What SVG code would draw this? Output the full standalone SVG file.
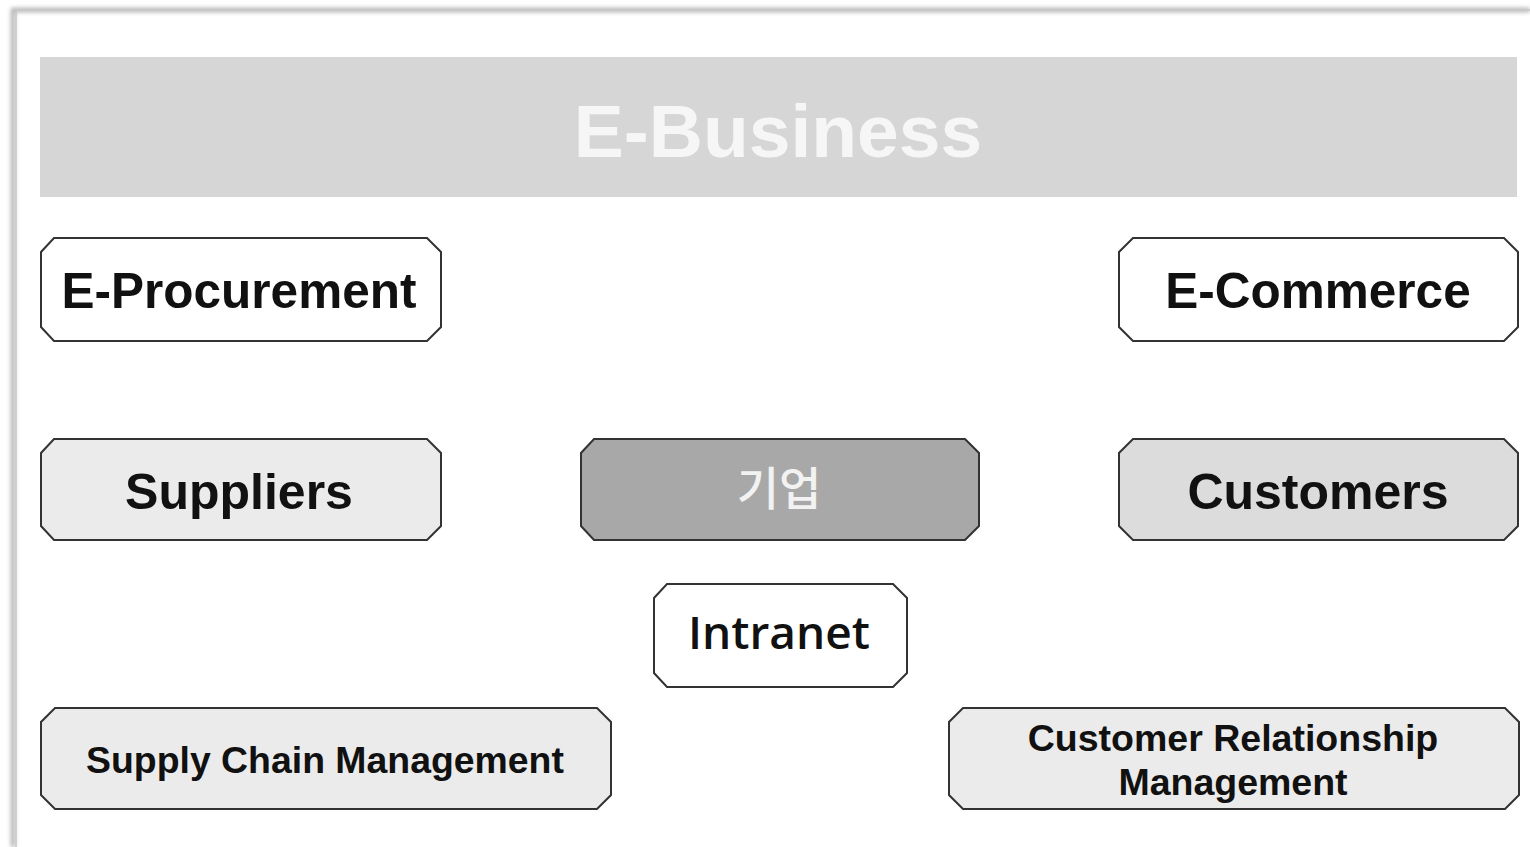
<svg xmlns="http://www.w3.org/2000/svg" width="1530" height="847" viewBox="0 0 1530 847">
<defs>
<style>
.box{stroke:#333;stroke-width:2}
.t{font-family:"Liberation Sans",Arial,sans-serif;font-weight:bold;text-anchor:middle;fill:#111}
</style>
<filter id="sh" x="-5%" y="-5%" width="110%" height="110%"><feGaussianBlur stdDeviation="2"/></filter>
</defs>
<rect width="1530" height="847" fill="#fff"/>
<g id="frame">
<path d="M13 847 V10 H1530" fill="none" stroke="#aaa" stroke-width="4" filter="url(#sh)"/>
<path d="M16 847 V10 H1530" fill="none" stroke="#c8c8c8" stroke-width="1.5"/>
</g>
<g id="ebusiness">
<rect x="40" y="57" width="1477" height="140" fill="#d6d6d6"/>
<text x="778" y="157" class="t" font-size="75" style="fill:#f6f6f6">E-Business</text>
</g>
<g id="eprocurement">
<polygon class="box" fill="#fff" points="54,238 427,238 441,252 441,327 427,341 54,341 41,327 41,252"/>
<text x="239" y="308" class="t" font-size="49.5">E-Procurement</text>
</g>
<g id="ecommerce">
<polygon class="box" fill="#fff" points="1133,238 1504,238 1518,252 1518,327 1504,341 1133,341 1119,327 1119,252"/>
<text x="1318" y="308" class="t" font-size="49.5">E-Commerce</text>
</g>
<g id="suppliers">
<polygon class="box" fill="#ebebeb" points="54,439 427,439 441,453 441,526 427,540 54,540 41,526 41,453"/>
<text x="239" y="509" class="t" font-size="50">Suppliers</text>
</g>
<g id="company">
<polygon class="box" fill="#a8a8a8" points="594,439 965,439 979,453 979,526 965,540 594,540 581,526 581,453"/>
<text x="779" y="505" font-family="'Noto Sans CJK KR',sans-serif" font-weight="500" font-size="46" text-anchor="middle" fill="#f2f2f2">기업</text>
</g>
<g id="customers">
<polygon class="box" fill="#dcdcdc" points="1133,439 1504,439 1518,453 1518,526 1504,540 1133,540 1119,526 1119,453"/>
<text x="1318" y="509" class="t" font-size="50">Customers</text>
</g>
<g id="intranet">
<polygon class="box" fill="#fff" points="667,584 893,584 907,598 907,673 893,687 667,687 654,673 654,598"/>
<text x="779" y="649" font-family="'Open Sans',sans-serif" font-weight="600" font-size="46" text-anchor="middle" fill="#111">Intranet</text>
</g>
<g id="scm">
<polygon class="box" fill="#ebebeb" points="55,708 597,708 611,722 611,795 597,809 55,809 41,795 41,722"/>
<text x="325" y="773" class="t" font-size="37.4">Supply Chain Management</text>
</g>
<g id="crm">
<polygon class="box" fill="#ebebeb" points="963,708 1505,708 1519,722 1519,795 1505,809 963,809 949,795 949,722"/>
<text x="1233" y="751" class="t" font-size="37.5">Customer Relationship</text>
<text x="1233" y="795" class="t" font-size="37.5">Management</text>
</g>
<g id="connectors"></g>
</svg>
